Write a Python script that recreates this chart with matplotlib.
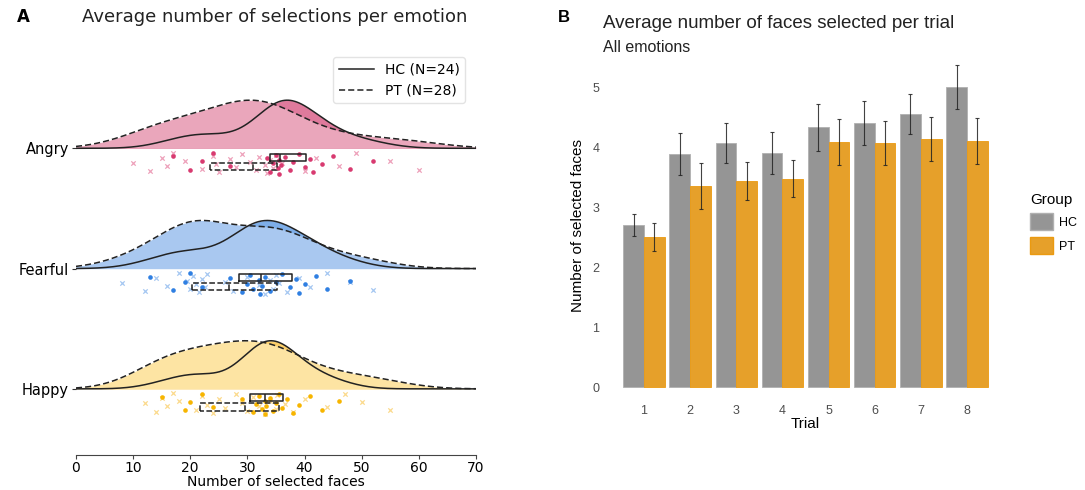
import numpy as np
import matplotlib
matplotlib.use("Agg")
import matplotlib.pyplot as plt
from matplotlib.patches import Patch
from matplotlib.lines import Line2D

# panel A: per-subject average selections (HC n=24, PT n=28)
emotions = ["Angry", "Fearful", "Happy"]
hc_angry = [17, 20, 22, 24, 27, 33.5, 34, 34.5, 35, 35.3, 35.5, 35.6, 35.8, 36.5,
            37.5, 38, 39, 40, 41, 41.5, 43, 45, 48, 52]
pt_angry = [10, 13, 15, 16, 17, 19, 22, 24, 24.5, 25, 27, 28, 29, 30.5, 31.5, 32,
            33, 33.5, 34, 34.5, 35, 36, 40, 42, 46, 49, 55, 60]
hc_fearful = [13, 17, 19, 20, 22, 27, 29, 30, 30.5, 31, 32, 32.2, 32.6, 33, 34, 35,
              36, 37.5, 38.5, 39, 40, 42, 44, 48]
pt_fearful = [8, 12, 14, 16, 18, 19.5, 20, 20.5, 21, 21.5, 22, 22.5, 23, 26, 27.5, 30,
              32, 33, 34, 34.5, 35, 35.5, 37, 39, 41, 44, 48, 52]
hc_happy = [15, 19, 20, 22, 24, 29, 31, 31.5, 32, 32.5, 33, 33, 33.2, 34, 34.5, 35,
            35.5, 36, 37, 38, 39, 41, 43, 46]
pt_happy = [12, 14, 15, 16, 17, 18, 21, 22, 23, 24, 25, 26, 28, 29, 30, 31, 32, 33,
            34, 35, 35.2, 36.5, 38, 40, 44, 47, 50, 55]

# panel B: mean faces selected per trial
trials = [1, 2, 3, 4, 5, 6, 7, 8]
hc_mean = [2.70, 3.88, 4.07, 3.90, 4.33, 4.40, 4.55, 5.00]
hc_err = [0.19, 0.35, 0.33, 0.35, 0.39, 0.37, 0.34, 0.37]
pt_mean = [2.50, 3.35, 3.43, 3.47, 4.08, 4.07, 4.13, 4.10]
pt_err = [0.23, 0.38, 0.32, 0.31, 0.38, 0.37, 0.37, 0.38]

light = {"Angry": "#eaa6bb", "Fearful": "#a9c8f0", "Happy": "#fde4a3"}
dark = {"Angry": "#df7a9c", "Fearful": "#7eaee8", "Happy": "#fccf6a"}
dot_col = {"Angry": "#d83a70", "Fearful": "#2f7fe2", "Happy": "#f7b500"}
x_col = {"Angry": "#e98aa9", "Fearful": "#8fb9ee", "Happy": "#fbd170"}

data = {"Angry": (hc_angry, pt_angry), "Fearful": (hc_fearful, pt_fearful),
        "Happy": (hc_happy, pt_happy)}


def kde(vals, grid):
    v = np.asarray(vals, float)
    h = v.std(ddof=1) * len(v) ** (-0.2)
    d = np.exp(-0.5 * ((grid[:, None] - v[None, :]) / h) ** 2).sum(axis=1)
    return d / d.max()


fig = plt.figure(figsize=(10.85, 4.9), dpi=100)

# ---------------- panel A
ax = fig.add_axes([0.0700, 0.0714, 0.3687, 0.8265])
grid = np.linspace(0, 70, 400)
rows = {"Angry": 2, "Fearful": 1, "Happy": 0}
for emo in emotions:
    base = rows[emo]
    hc, pt = data[emo]
    yh = base + 0.4 * kde(hc, grid)
    yp = base + 0.4 * kde(pt, grid)
    ax.fill_between(grid, base, yh, color=dark[emo], lw=0, zorder=1)
    ax.fill_between(grid, base, yp, color=light[emo], lw=0, zorder=2)
    ax.plot(grid, yh, color="#222222", lw=1.1, zorder=4)
    ax.plot(grid, yp, color="#222222", lw=1.1, ls=(0, (4, 2)), zorder=4)

    jh = -0.03 - 0.18 * ((np.arange(len(hc)) * 0.618 + 0.2) % 1)
    jp = -0.03 - 0.18 * ((np.arange(len(pt)) * 0.382 + 0.5) % 1)
    ax.scatter(pt, base + jp, marker="x", s=10, lw=0.9, color=x_col[emo], alpha=0.8, zorder=3)
    ax.scatter(hc, base + jh, marker="o", s=11, lw=0, color=dot_col[emo], zorder=3)

    for vals, pos, ls in ((hc, base - 0.075, "-"), (pt, base - 0.15, "--")):
        ax.boxplot([vals], positions=[pos], widths=0.06, orientation="horizontal",
                   whis=0, showfliers=False, showcaps=False, manage_ticks=False,
                   boxprops=dict(color="#222222", lw=1.1, ls=ls),
                   medianprops=dict(color="#222222", lw=1.1, ls=ls),
                   whiskerprops=dict(lw=0), zorder=5)

ax.set_xlim(0, 70)
ax.set_ylim(-0.55, 2.817)
ax.set_yticks([rows[e] for e in emotions])
ax.set_yticklabels(emotions, fontsize=10.5)
ax.tick_params(axis="y", length=3, pad=2, color="#333333")
ax.set_xticks(np.arange(0, 71, 10))
ax.tick_params(axis="x", labelsize=10, length=3, pad=1.5, color="#444444")
for s in ["top", "right", "left"]:
    ax.spines[s].set_visible(False)
ax.spines["bottom"].set_color("#444444")
ax.set_xlabel("Number of selected faces", fontsize=10, labelpad=0)
ax.legend(handles=[Line2D([], [], color="#222222", lw=1.1, label="HC (N=24)"),
                   Line2D([], [], color="#222222", lw=1.1, ls=(0, (4, 2)), label="PT (N=28)")],
          loc="upper right", bbox_to_anchor=(0.99, 1.0), fontsize=10, handlelength=2.5,
          edgecolor="#dddddd", fancybox=True)

fig.text(0.016, 0.955, "A", fontsize=12, fontweight="bold")
fig.text(0.253, 0.955, "Average number of selections per emotion", fontsize=13,
         ha="center", color="#222222")

# ---------------- panel B
sans = ["Liberation Sans", "DejaVu Sans"]
bx = fig.add_axes([0.5576, 0.177, 0.3696, 0.7237])
t = np.array(trials)
w = 0.45
bx.bar(t - w / 2, hc_mean, width=w, color="#959595", edgecolor="#b0b0b0", lw=0.6)
bx.bar(t + w / 2, pt_mean, width=w, color="#e6a02a", edgecolor="#eb9a10", lw=0.6)
bx.errorbar(t - w / 2, hc_mean, yerr=hc_err, fmt="none", ecolor="#222222", elinewidth=0.8,
            capsize=1.6, capthick=0.8, alpha=0.85)
bx.errorbar(t + w / 2, pt_mean, yerr=pt_err, fmt="none", ecolor="#222222", elinewidth=0.8,
            capsize=1.6, capthick=0.8, alpha=0.85)
bx.set_xlim(0.155, 8.845)
bx.set_ylim(-0.27, 5.64)
bx.set_xticks(trials)
bx.set_xticklabels([str(v) for v in trials], family=sans, fontsize=9, color="#4d4d4d")
bx.set_yticks([0, 1, 2, 3, 4, 5])
bx.set_yticklabels(["0", "1", "2", "3", "4", "5"], family=sans, fontsize=9, color="#4d4d4d")
bx.tick_params(axis="x", length=0, pad=1.5)
bx.tick_params(axis="y", length=0, pad=4)
for s in bx.spines.values():
    s.set_visible(False)
bx.set_xlabel("Trial", family=sans, fontsize=11, labelpad=0)
bx.set_ylabel("Number of selected faces", family=sans, fontsize=11, labelpad=5)

fig.text(0.514, 0.955, "B", fontsize=12, fontweight="bold", family=sans)
fig.text(0.556, 0.942, "Average number of faces selected per trial", fontsize=13.5,
         family=sans, color="#222222")
fig.text(0.556, 0.893, "All emotions", fontsize=11.5, family=sans, color="#222222")
fig.legend(handles=[Patch(facecolor="#959595", edgecolor="#b0b0b0", label="HC"),
                    Patch(facecolor="#e6a02a", edgecolor="#eb9a10", label="PT")],
           title="Group", loc="upper left", bbox_to_anchor=(0.939, 0.63), frameon=False,
           prop=dict(family=sans, size=9), title_fontproperties=dict(family=sans, size=11),
           handlelength=1.8, handleheight=1.8, handletextpad=0.5, alignment="left")

fig.savefig("out.png", dpi=100)
